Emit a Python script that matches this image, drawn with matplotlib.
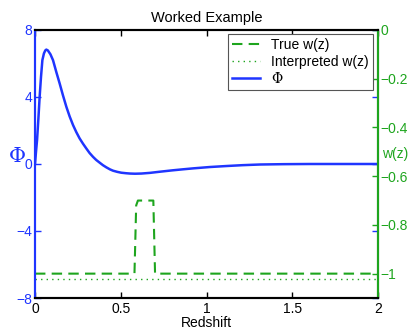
import matplotlib
matplotlib.use("Agg")
import matplotlib.pyplot as plt

plt.rcParams['font.family'] = ['Liberation Sans', 'DejaVu Sans']

# ── data ──────────────────────────────────────────────────────────────────
z_phi = [0.0, 0.006, 0.012, 0.02, 0.027, 0.035, 0.043, 0.052, 0.06, 0.066,
         0.075, 0.09, 0.105, 0.124, 0.144, 0.163, 0.183, 0.202, 0.222, 0.241,
         0.26, 0.28, 0.299, 0.318, 0.338, 0.357, 0.377, 0.396, 0.416, 0.437,
         0.455, 0.48, 0.503, 0.53, 0.554, 0.583, 0.62, 0.67, 0.729, 0.8,
         0.86, 0.923, 1.02, 1.118, 1.21, 1.312, 1.45, 1.6, 1.8, 2.0]
phi = [0.0, 0.75, 1.43, 2.75, 4.0, 5.2, 6.2, 6.6, 6.78, 6.83,
       6.78, 6.55, 6.2, 5.5, 4.8, 4.1, 3.41, 2.84, 2.32, 1.9,
       1.53, 1.21, 0.93, 0.66, 0.43, 0.24, 0.08, -0.07, -0.2, -0.32,
       -0.4, -0.47, -0.52, -0.55, -0.57, -0.58, -0.57, -0.53, -0.46, -0.38,
       -0.32, -0.26, -0.18, -0.12, -0.07, -0.03, -0.01, 0.0, 0.0, 0.0]

z_true = [0.0, 0.58, 0.59, 0.6, 0.69, 0.70, 2.0]
w_true = [-1.0, -1.0, -0.72, -0.7, -0.7, -1.0, -1.0]

z_interp = [0.0, 2.0]
w_interp = [-1.02, -1.02]

phi_ticks = [-8, -4, 0, 4, 8]
phi_ticklabels = ["\u22128", "\u22124", "0", "4", "8"]
w_ticks = [-1, -0.8, -0.6, -0.4, -0.2, 0]
w_ticklabels = ["\u22121", "\u22120.8", "\u22120.6", "\u22120.4", "\u22120.2", "0"]
z_ticks = [0, 0.5, 1, 1.5, 2]
z_ticklabels = ["0", "0.5", "1", "1.5", "2"]

BLUE = "#1f35ff"
GREEN = "#1ea51e"
FS = 10

fig = plt.figure(figsize=(4.15, 3.36), dpi=100)
ax = fig.add_axes([35 / 415, 1 - 298 / 336, (378 - 35) / 415, (298 - 30) / 336])
ax2 = ax.twinx()

# Phi on left axis
ln_phi, = ax.plot(z_phi, phi, color=BLUE, lw=1.8, label="\u03a6",
                  solid_joinstyle="round")
ax.set_xlim(0, 2)
ax.set_ylim(-8, 8)
ax.set_yticks(phi_ticks)
ax.set_yticklabels(phi_ticklabels)
ax.set_xticks(z_ticks)
ax.set_xticklabels(z_ticklabels)
ax.tick_params(axis="y", colors=BLUE, direction="in", length=4, width=1,
               labelsize=FS, right=True, pad=2)
ax.tick_params(axis="x", colors="black", direction="in", length=4, width=1,
               labelsize=FS, top=True, pad=3)
ax.spines["left"].set_color(BLUE)
for s in ax.spines.values():
    s.set_linewidth(1.5)

# w(z) on right axis
ln_true, = ax2.plot(z_true, w_true, color=GREEN, lw=1.5,
                    dashes=(5, 3), label="True w(z)")
ln_int, = ax2.plot(z_interp, w_interp, color=GREEN, lw=1.0,
                   linestyle=(0, (1, 3)), label="Interpreted w(z)")
ax2.set_ylim(-1.1, 0)
ax2.set_yticks(w_ticks)
ax2.set_yticklabels(w_ticklabels)
ax2.tick_params(axis="y", colors=GREEN, direction="in", length=4, width=1,
                labelsize=FS, pad=2)
for s in ax2.spines.values():
    s.set_linewidth(1.5)
ax2.spines["right"].set_color(GREEN)
ax2.spines["left"].set_color(BLUE)
ax2.spines["top"].set_color("black")
ax2.spines["bottom"].set_color("black")

ax.set_title("Worked Example", fontsize=10.5, pad=6)
ax.set_xlabel("Redshift", fontsize=FS, labelpad=0)
fig.text(17 / 415, 1 - 156 / 336, "\u03a6", color=BLUE, fontsize=15,
         family="DejaVu Serif", ha="center", va="center")
fig.text(395 / 415, 1 - 154 / 336, "w(z)", color=GREEN, fontsize=FS,
         ha="center", va="center")

leg = ax2.legend(handles=[ln_true, ln_int, ln_phi], loc="upper right",
                 bbox_to_anchor=(1 - 5 / 343, 1 - 4 / 268), fontsize=FS,
                 fancybox=False, framealpha=1, edgecolor="#555555",
                 handlelength=2.0, borderpad=0.3, labelspacing=0.2,
                 handletextpad=0.8, borderaxespad=0)
leg.get_frame().set_linewidth(0.8)
leg.get_texts()[2].set_family("DejaVu Serif")

fig.savefig("out.png", dpi=100)
